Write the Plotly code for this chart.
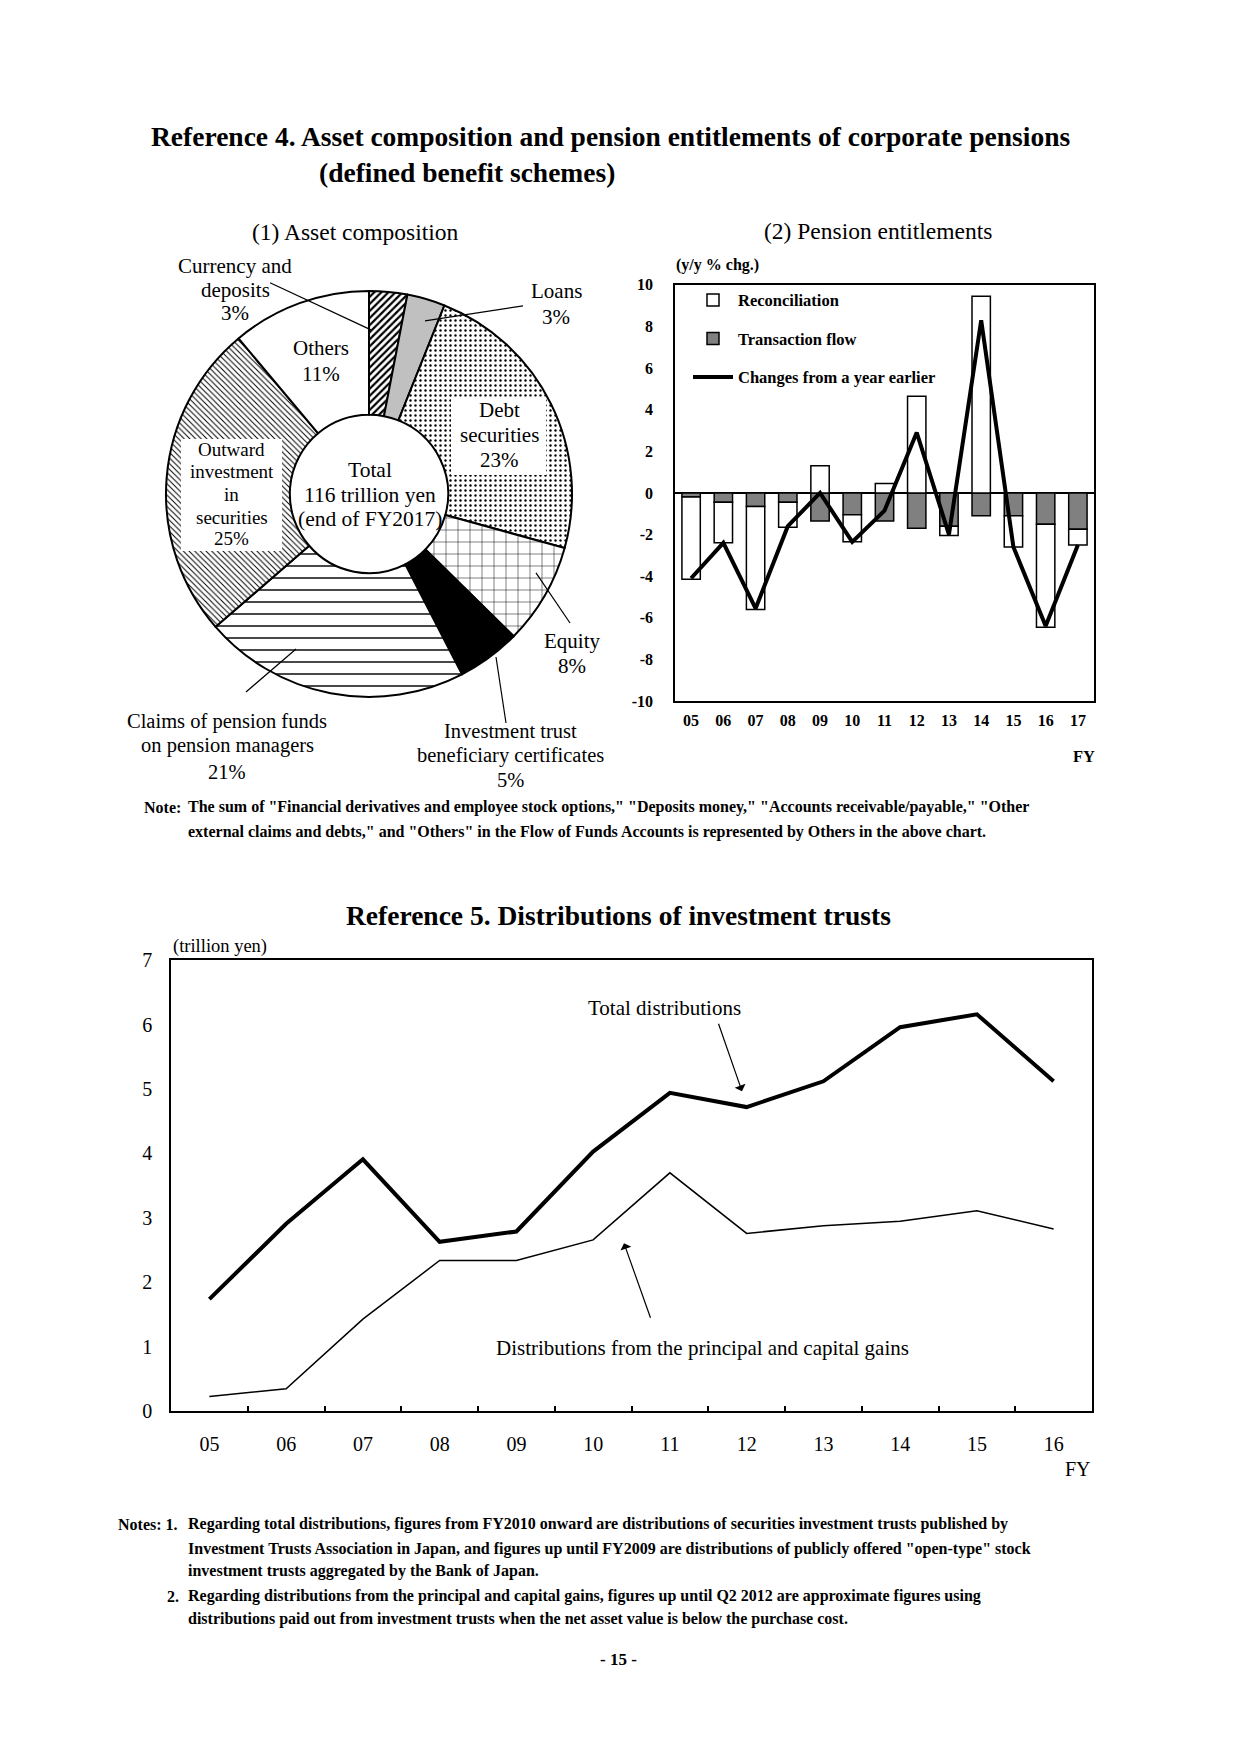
import plotly.graph_objects as go

# Page is 1240x1754; the browser body keeps its default 8px margin,
# so the figure is 1224x1738 placed at (8, 8).
PAGE_W, PAGE_H = 1240, 1754
OFF = 8
W, H = PAGE_W - 2 * OFF, PAGE_H - 2 * OFF
FONT = "Liberation Serif, Times New Roman, serif"
# measured vertical correction of the captured page (scale / offset)
VS, VO = 0.9869, 11.4


def fx(x):
    return (x - OFF) / W


def fy(y):
    yy = (y - VO) / VS
    return 1 - (yy - OFF) / H


# ---------------- data ----------------
asset_labels = [
    "Currency and deposits",
    "Loans",
    "Debt securities",
    "Equity",
    "Investment trust beneficiary certificates",
    "Claims of pension funds on pension managers",
    "Outward investment in securities",
    "Others",
]
asset_shares = [3, 3, 23, 8, 5, 21, 25, 11]

pension_fy = ["05", "06", "07", "08", "09", "10", "11", "12", "13", "14", "15", "16", "17"]
reconciliation = [-3.95, -1.95, -4.95, -1.2, 1.3, -1.3, 0.45, 4.65, -0.45, 9.45, -1.5, -4.95, -0.75]
transaction_flow = [-0.2, -0.45, -0.65, -0.45, -1.35, -1.05, -1.35, -1.7, -1.6, -1.1, -1.1, -1.5, -1.75]
yoy_change = [-4.1, -2.4, -5.55, -1.6, 0.0, -2.35, -0.85, 2.9, -2.0, 8.3, -2.6, -6.4, -2.5]
pension_yticks = [-10, -8, -6, -4, -2, 0, 2, 4, 6, 8, 10]

dist_fy = ["05", "06", "07", "08", "09", "10", "11", "12", "13", "14", "15", "16"]
total_dist = [1.74, 2.91, 3.91, 2.63, 2.79, 4.03, 4.94, 4.72, 5.12, 5.96, 6.16, 5.12]
principal_dist = [0.23, 0.35, 1.43, 2.34, 2.34, 2.66, 3.70, 2.76, 2.88, 2.95, 3.11, 2.83]
dist_yticks = [0, 1, 2, 3, 4, 5, 6, 7]

# ---------------- traces ----------------
fig = go.Figure()

fig.add_trace(go.Pie(
    labels=asset_labels,
    values=asset_shares,
    sort=False,
    direction="clockwise",
    rotation=0,
    hole=0.39,
    textinfo="none",
    showlegend=False,
    domain=dict(x=[fx(166), fx(572)], y=[fy(697), fy(291)]),
    marker=dict(
        colors=["white", "#c0c0c0", "white", "white", "black", "white", "white", "white"],
        line=dict(color="black", width=2),
        pattern=dict(
            shape=["/", "", ".", "+", "", "-", "\\", ""],
            fgcolor="black",
            size=[5, 8, 5, 12, 8, 12, 4, 8],
            solidity=[0.45, 0.2, 0.18, 0.08, 0.2, 0.12, 0.25, 0.2],
        ),
    ),
))

# Bar chart (pension entitlements)
fig.add_trace(go.Bar(
    x=pension_fy, y=transaction_flow, name="Transaction flow",
    marker=dict(color="#808080", line=dict(color="black", width=1.5)),
    xaxis="x2", yaxis="y2", legendgroup="b", legendrank=2,
))
fig.add_trace(go.Bar(
    x=pension_fy, y=reconciliation, name="Reconciliation",
    marker=dict(color="white", line=dict(color="black", width=1.5)),
    xaxis="x2", yaxis="y2", legendgroup="a", legendrank=1,
))
fig.add_trace(go.Scatter(
    x=pension_fy, y=yoy_change, mode="lines", name="Changes from a year earlier",
    line=dict(color="black", width=4),
    xaxis="x2", yaxis="y2", legendgroup="c", legendrank=3,
))

# Line chart (distributions)
fig.add_trace(go.Scatter(
    x=dist_fy, y=total_dist, mode="lines", name="Total distributions",
    line=dict(color="black", width=4), showlegend=False, xaxis="x", yaxis="y",
))
fig.add_trace(go.Scatter(
    x=dist_fy, y=principal_dist, mode="lines",
    name="Distributions from the principal and capital gains",
    line=dict(color="black", width=1.5), showlegend=False, xaxis="x", yaxis="y",
))

# ---------------- annotations ----------------
annotations = []


def ann(text, x, y, size, bold=False, xanchor="center", yanchor="middle"):
    annotations.append(dict(
        text=f"<b>{text}</b>" if bold else text,
        x=fx(x), y=fy(y), xref="paper", yref="paper",
        xanchor=xanchor, yanchor=yanchor, showarrow=False,
        font=dict(family=FONT, size=size, color="black"),
    ))


def lines(texts, x, ys, size, bold=False):
    for t, yy in zip(texts, ys):
        ann(t, x, yy, size, bold)


ann("Reference 4. Asset composition and pension entitlements of corporate pensions", 610, 137, 27.5, True)
ann("(defined benefit schemes)", 467, 173, 27.5, True)
ann("(1) Asset composition", 355, 232, 23.5)
ann("(2) Pension entitlements", 878, 231, 23.5)

# pie labels
lines(["Currency and", "deposits", "3%"], 235, [266, 290, 313], 21)
lines(["Loans", "3%"], 556, [291, 317], 21)
lines(["Others", "11%"], 321, [348, 374], 21)
lines(["Debt", "securities", "23%"], 499, [410, 435, 460], 21)
lines(["Outward", "investment", "in", "securities", "25%"], 232, [450, 472, 495, 518, 539], 19)
lines(["Total", "116 trillion yen", "(end of FY2017)"], 370, [470, 495, 519], 21.5)
lines(["Equity", "8%"], 572, [641, 666], 21)
lines(["Investment trust", "beneficiary certificates", "5%"], 510, [731, 755, 780], 20.5)
lines(["Claims of pension funds", "on pension managers", "21%"], 227, [721, 745, 772], 20.5)

# bar chart texts
ann("(y/y % chg.)", 674, 265, 16, True, xanchor="left")
ann("FY", 1097, 756, 16.5, True, xanchor="right")

ann("Note:", 142, 807, 16, True, xanchor="left")
ann("The sum of \"Financial derivatives and employee stock options,\" \"Deposits money,\" \"Accounts receivable/payable,\" \"Other",
    186, 807, 16, True, xanchor="left")
ann("external claims and debts,\" and \"Others\" in the Flow of Funds Accounts is represented by Others in the above chart.",
    186, 832, 16, True, xanchor="left")

# line chart texts
ann("Reference 5. Distributions of investment trusts", 618, 915, 27.5, True)
ann("(trillion yen)", 171, 946, 18.5, xanchor="left")
ann("FY", 1093, 1469, 20, xanchor="right")
ann("Total distributions", 664, 1008, 21)
ann("Distributions from the principal and capital gains", 702, 1348, 21)

# arrows
for (tx, ty, hx, hy) in [(718, 1022, 742, 1091), (651, 1319, 624, 1243)]:
    annotations.append(dict(
        text="", x=fx(hx), y=fy(hy), xref="paper", yref="paper",
        ax=tx - hx, ay=ty - hy, axref="pixel", ayref="pixel",
        showarrow=True, arrowhead=1, arrowsize=1.6, arrowwidth=1.2, arrowcolor="black",
    ))

ann("Notes: 1.", 116, 1524, 16, True, xanchor="left")
ann("Regarding total distributions, figures from FY2010 onward are distributions of securities investment trusts published by",
    186, 1524, 16, True, xanchor="left")
ann("Investment Trusts Association in Japan, and figures up until FY2009 are distributions of publicly offered \"open-type\" stock",
    186, 1549, 16, True, xanchor="left")
ann("investment trusts aggregated by the Bank of Japan.", 186, 1571, 16, True, xanchor="left")
ann("2.", 165, 1596, 16, True, xanchor="left")
ann("Regarding distributions from the principal and capital gains, figures up until Q2 2012 are approximate figures using",
    186, 1596, 16, True, xanchor="left")
ann("distributions paid out from investment trusts when the net asset value is below the purchase cost.",
    186, 1619, 16, True, xanchor="left")
ann("- 15 -", 618, 1659, 17, True)

# ---------------- shapes ----------------
shapes = []
for (x0, y0, x1, y1) in [(451, 397, 546, 475), (181, 439, 282, 551)]:
    shapes.append(dict(type="rect", xref="paper", yref="paper",
                       x0=fx(x0), y0=fy(y1), x1=fx(x1), y1=fy(y0),
                       fillcolor="white", line=dict(width=0), layer="above"))
for (x0, y0, x1, y1) in [(270, 283, 371, 330), (523, 306, 425, 321), (536, 573, 570, 623),
                         (496, 657, 506, 723), (296, 649, 246, 692)]:
    shapes.append(dict(type="line", xref="paper", yref="paper",
                       x0=fx(x0), y0=fy(y0), x1=fx(x1), y1=fy(y1),
                       line=dict(color="black", width=1.2), layer="above"))

# ---------------- layout ----------------
axis_common = dict(showline=True, mirror=True, linecolor="black", linewidth=1.5,
                   showgrid=False, zeroline=False, color="black")

zero_pos = fy((285 + 701) / 2)

fig.update_layout(
    width=W, height=H,
    margin=dict(l=0, r=0, t=0, b=0),
    paper_bgcolor="white", plot_bgcolor="white",
    font=dict(family=FONT, color="black"),
    barmode="relative", bargap=0.43,
    showlegend=True,
    legend=dict(
        x=fx(688), y=fy(283), xanchor="left", yanchor="top",
        font=dict(family=FONT, size=16.5, weight="bold", color="black"),
        bgcolor="rgba(0,0,0,0)", traceorder="grouped", tracegroupgap=14, itemwidth=40,
    ),
    xaxis=dict(domain=[fx(171), fx(1092)], anchor="y", type="category", range=[-0.5, 11.5],
               ticks="inside", tickson="boundaries", ticklen=6, tickwidth=1.5, tickcolor="black",
               tickfont=dict(size=20), ticklabelstandoff=14, **axis_common),
    yaxis=dict(domain=[fy(1411), fy(960)], anchor="x", range=[0, 7], tickvals=dist_yticks,
               ticks="", tickfont=dict(size=20), ticklabelstandoff=13, **axis_common),
    xaxis2=dict(domain=[fx(675), fx(1094)], anchor="y2", type="category", range=[-0.5, 12.5],
                ticks="", tickfont=dict(size=16, weight="bold"), ticklabelstandoff=4, **axis_common),
    yaxis2=dict(domain=[fy(701), fy(285)], anchor="x2", range=[-10, 10], tickvals=pension_yticks,
                ticktext=[str(v) for v in pension_yticks], ticks="",
                tickfont=dict(size=16, weight="bold"), ticklabelstandoff=17,
                showline=True, mirror=True, linecolor="black", linewidth=1.5, showgrid=False,
                zeroline=True, zerolinecolor="black", zerolinewidth=1.5),
    xaxis3=dict(overlaying="x2", anchor="free", position=zero_pos, domain=[fx(675), fx(1094)],
                range=[-0.5, 12.5], tick0=0.5, dtick=1, ticks="outside", ticklen=4, tickwidth=1.2,
                tickcolor="black", showticklabels=False, showline=False, showgrid=False, zeroline=False),
    xaxis4=dict(overlaying="x2", anchor="free", position=zero_pos, domain=[fx(675), fx(1094)],
                range=[-0.5, 12.5], tick0=0.5, dtick=1, ticks="inside", ticklen=4, tickwidth=1.2,
                tickcolor="black", showticklabels=False, showline=False, showgrid=False, zeroline=False),
    annotations=annotations,
    shapes=shapes,
)

fig.write_html("out.html", config={"displayModeBar": False})
